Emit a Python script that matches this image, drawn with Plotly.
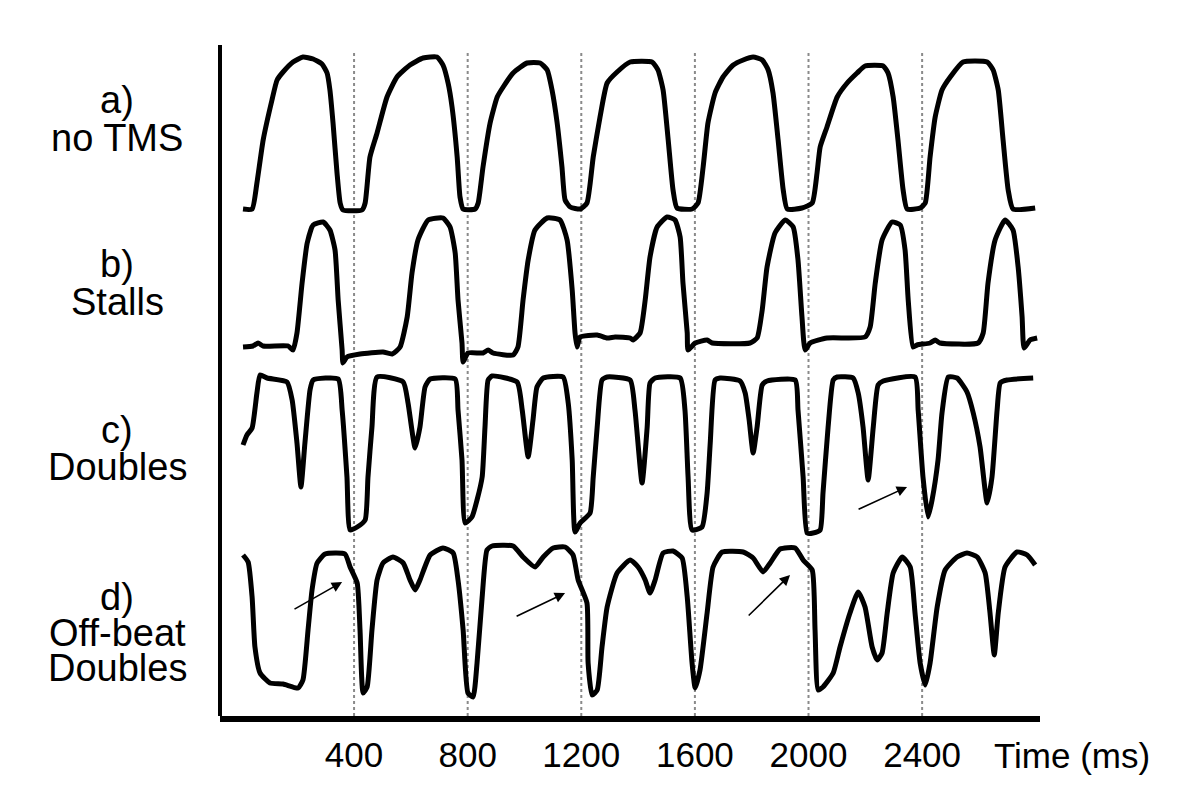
import plotly.graph_objects as go

# a) no TMS
time_a = [9, 41, 58, 80, 111, 129, 150, 185, 220, 256, 287, 305, 315, 326, 340, 351, 361, 428, 439, 456,
          481, 516, 551, 597, 643, 692, 713, 731, 745, 763, 773, 784, 826, 837, 854, 879, 904, 925, 960, 1009,
          1055, 1080, 1097, 1115, 1132, 1143, 1161, 1196, 1220, 1242, 1266, 1291, 1326, 1372, 1449, 1470, 1488,
          1506, 1523, 1537, 1590, 1611, 1629, 1646, 1671, 1699, 1735, 1770, 1805, 1837, 1858, 1875, 1893, 1911,
          1925, 1977, 2013, 2030, 2041, 2065, 2101, 2136, 2171, 2199, 2263, 2280, 2298, 2315, 2333, 2347, 2393,
          2411, 2428, 2446, 2470, 2499, 2544, 2629, 2650, 2668, 2685, 2703, 2720, 2798]
amp_a = [1, 1, 27, 70, 110, 130, 138, 148, 153, 151, 146, 137, 120, 87, 37, 7, 0, 0, 7, 53,
         77, 113, 133, 145, 152, 153, 145, 127, 103, 53, 13, 1, 1, 7, 43, 87, 113, 123, 137, 147,
         147, 140, 120, 87, 43, 10, 3, 1, 7, 53, 93, 127, 138, 148, 148, 140, 120,
         70, 20, 2, 1, 7, 43, 87, 117, 133, 145, 150, 153, 150, 140, 117, 70, 20,
         1, 2, 7, 37, 63, 83, 113, 127, 137, 144, 144, 137, 113, 70, 20, 1, 2,
         7, 53, 93, 120, 133, 148, 148, 140, 120, 70, 20, 1, 2]

# b) Stalls
time_b = [9, 44, 62, 80, 168, 185, 199, 217, 235, 256, 291, 315, 333, 344, 358, 361, 375, 421, 502, 534,
          562, 587, 604, 625, 661, 713, 738, 756, 766, 780, 784, 801, 854, 872, 889, 960, 977, 995, 1013, 1037,
          1080, 1125, 1150, 1168, 1178, 1185, 1196, 1256, 1291, 1319, 1372, 1382, 1407, 1425, 1442, 1467, 1502,
          1530, 1548, 1558, 1573, 1576, 1601, 1643, 1661, 1794, 1819, 1837, 1854, 1882, 1918, 1946, 1963, 1977,
          1988, 2006, 2065, 2199, 2217, 2235, 2259, 2294, 2323, 2340, 2351, 2368, 2382, 2428, 2446, 2463, 2597,
          2615, 2632, 2657, 2692, 2720, 2738, 2752, 2759, 2780, 2805]
amp_b = [0, 1, 4, 1, 1, -3, 14, 64, 104, 122, 125, 117, 97, 47, -3, -16, -10, -7, -5, -7,
         0, 30, 74, 107, 127, 129, 120, 94, 47, 4, -15, -6, -6, -3, -6, -8, 0, 47, 87, 117,
         129, 127, 107, 57, 14, 0, 10, 12, 9, 10, 9, 7, 14, 47, 90, 120, 130,
         127, 110, 64, 14, -3, 4, 7, 4, 4, 9, 37, 80, 114, 127, 120, 87, 30,
         -3, 4, 9, 10, 20, 64, 107, 125, 122, 97, 47, 0, 2, 4, 7, 4, 4,
         14, 64, 107, 127, 117, 80, 30, -1, 7, 9]

# c) Doubles
time_c = [9, 23, 41, 58, 69, 94, 164, 182, 199, 213, 227, 245, 256, 344, 358, 375, 386, 411, 439, 449,
          463, 481, 573, 590, 615, 632, 650, 668, 756, 766, 780, 791, 815, 833, 851, 861, 872, 886, 974, 992,
          1013, 1030, 1044, 1066, 1136, 1154, 1168, 1178, 1196, 1231, 1242, 1256, 1273, 1291, 1372, 1389, 1414,
          1432, 1442, 1460, 1548, 1565, 1576, 1590, 1625, 1643, 1654, 1671, 1689, 1759, 1777, 1791, 1805, 1819,
          1837, 1854, 1953, 1963, 1981, 1995, 2016, 2041, 2051, 2069, 2087, 2101, 2157, 2175, 2192, 2210, 2228,
          2245, 2263, 2375, 2386, 2403, 2421, 2435, 2456, 2470, 2492, 2523, 2558, 2580, 2604, 2629, 2646, 2664,
          2675, 2699, 2791]
amp_c = [88, 98, 105, 140, 158, 155, 151, 133, 90, 46, 90, 143, 153, 154, 123, 56, 3, 6, 13, 56,
         106, 156, 151, 130, 85, 106, 146, 154, 154, 123, 73, 10, 16, 33, 56, 106, 153, 157, 151, 123,
         76, 113, 146, 155, 156, 130, 73, 1, 10, 20, 56, 106, 153, 156, 153, 123, 50,
         106, 150, 155, 155, 123, 56, 3, 6, 40, 90, 153, 155, 152, 140, 113, 80, 106,
         148, 152, 153, 123, 56, 0, 0, 3, 40, 106, 153, 156, 155, 140, 106, 53, 106,
         148, 152, 156, 123, 56, 16, 33, 73, 120, 156, 155, 141, 120, 86, 30, 56, 123,
         150, 153, 155]

# d) Off-beat Doubles
time_d = [9, 27, 41, 51, 69, 104, 150, 203, 220, 238, 252, 270, 298, 368, 386, 411, 421, 432, 446, 463,
          481, 502, 537, 573, 597, 615, 632, 668, 713, 749, 766, 784, 801, 819, 833, 851, 868, 886, 960, 995,
          1037, 1066, 1101, 1143, 1171, 1189, 1220, 1224, 1238, 1256, 1273, 1291, 1326, 1372, 1400, 1425, 1442,
          1460, 1488, 1523, 1555, 1573, 1590, 1601, 1618, 1643, 1664, 1696, 1770, 1805, 1840, 1865, 1900, 1953,
          1981, 2013, 2023, 2034, 2051, 2087, 2111, 2146, 2175, 2199, 2224, 2242, 2259, 2277, 2298, 2330, 2358,
          2375, 2393, 2411, 2428, 2453, 2481, 2523, 2558, 2594, 2622, 2639, 2654, 2668, 2692, 2734, 2770, 2798]
amp_d = [145, 138, 103, 53, 27, 17, 16, 12, 20, 70, 110, 137, 146, 146, 133, 117, 70, 7, 13, 70,
         120, 137, 143, 137, 120, 110, 120, 145, 152, 147, 120, 70, 7, 3, 37, 103, 150, 154, 154, 143,
         133, 143, 152, 153, 145, 120, 97, 37, 5, 10, 53, 93, 127, 140, 133, 120, 107,
         120, 147, 149, 142, 103, 37, 12, 30, 87, 133, 148, 148, 142, 128, 137, 151, 152,
         140, 130, 70, 10, 13, 27, 53, 87, 108, 93, 53, 40, 47, 87, 127, 143, 133,
         87, 37, 15, 37, 93, 130, 143, 147, 143, 127, 87, 45, 87, 133, 148, 145, 135]

# arrows: (tail time, tail amp, head time, head amp)
arrows_c = [(2171, 23, 2347, 46)]
arrows_d = [(185, 90, 358, 118), (967, 83, 1143, 107), (1784, 83, 1935, 125)]

beat_ticks = [400, 800, 1200, 1600, 2000, 2400]
row_labels = [["a)", "no TMS"], ["b)", "Stalls"], ["c)", "Doubles"], ["d)", "Off-beat", "Doubles"]]
label_y = [[100, 138], [264, 302], [430, 467], [597, 633, 668]]

FONT = "Liberation Sans, Arial, sans-serif"
W, H = 1200, 799
left, right, top, bottom = 220, 1040, 45, 716


def px_x(v):
    return (v - left) / (right - left)


def px_y(v):
    return (bottom - v) / (bottom - top)


fig = go.Figure()
rows = [(time_a, amp_a, "y"), (time_b, amp_b, "y2"), (time_c, amp_c, "y3"), (time_d, amp_d, "y4")]
for t, a, ax in rows:
    fig.add_trace(go.Scatter(x=t, y=a, yaxis=ax, mode="lines", showlegend=False,
                             line=dict(color="black", width=5, shape="spline", smoothing=0.5),
                             hoverinfo="skip"))

# each row gets its own overlaid y axis; baseline pixel row of each trace
baselines = [210, 347, 533, 700]
for i, b in enumerate(baselines):
    key = "yaxis" if i == 0 else f"yaxis{i + 1}"
    ax = dict(range=[b - bottom, b - top], visible=False, fixedrange=True)
    if i > 0:
        ax["overlaying"] = "y"
    fig.layout[key] = ax

for v in beat_ticks:
    fig.add_shape(type="line", xref="x", yref="paper", x0=v, x1=v, y0=0, y1=0.99,
                  line=dict(color="#8a8a8a", width=2, dash="dot"), layer="below")

for axname, arr in (("y3", arrows_c), ("y4", arrows_d)):
    for t0, a0, t1, a1 in arr:
        fig.add_annotation(x=t1, y=a1, ax=t0, ay=a0, xref="x", yref=axname,
                           axref="x", ayref=axname, text="", showarrow=True,
                           arrowhead=2, arrowsize=1.3, arrowwidth=1.6, arrowcolor="black")

for labels, ys in zip(row_labels, label_y):
    for txt, yy in zip(labels, ys):
        fig.add_annotation(x=px_x(117), y=px_y(yy), xref="paper", yref="paper", text=txt,
                           xanchor="center", yanchor="middle", showarrow=False,
                           font=dict(family=FONT, size=38, color="black"))

fig.add_annotation(x=px_x(1072), y=px_y(755), xref="paper", yref="paper", text="Time (ms)",
                   xanchor="center", yanchor="middle", showarrow=False,
                   font=dict(family=FONT, size=35, color="black"))

fig.update_layout(
    width=W, height=H,
    margin=dict(l=left, r=W - right, t=top, b=H - bottom, pad=0),
    plot_bgcolor="white", paper_bgcolor="white",
    xaxis=dict(range=[-72, 2815], tickvals=beat_ticks, ticktext=[str(v) for v in beat_ticks],
               showgrid=False, zeroline=False, showline=True, linecolor="black", linewidth=6,
               ticks="", ticklabelstandoff=3, fixedrange=True,
               tickfont=dict(family=FONT, size=35, color="black")),
    font=dict(family=FONT, color="black"),
)
fig.add_shape(type="line", xref="paper", yref="paper", x0=0, x1=0, y0=0, y1=1,
              line=dict(color="black", width=4))

fig.write_html("out.html", config={"displayModeBar": False},
               post_script="document.body.style.margin='0';")
